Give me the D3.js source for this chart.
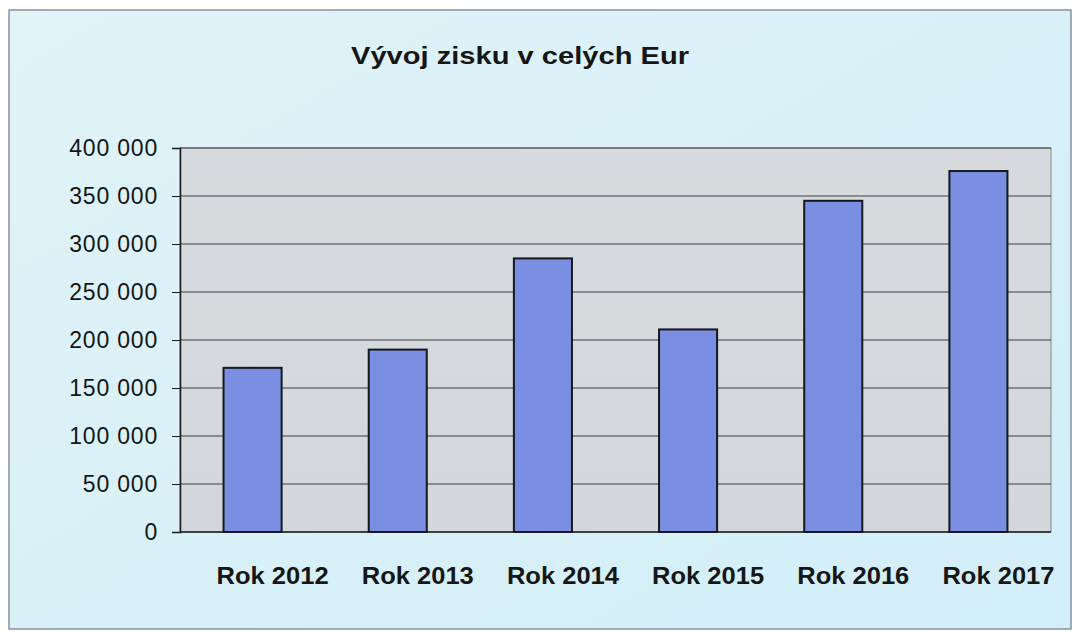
<!DOCTYPE html>
<html>
<head>
<meta charset="utf-8">
<script src="https://cdn.jsdelivr.net/npm/d3@7"></script>
<style>
  html, body { margin: 0; padding: 0; background: #ffffff; }
  svg { display: block; }
</style>
</head>
<body>
<svg id="chart" width="1075" height="632"></svg>
<script>
const categories = ["Rok 2012", "Rok 2013", "Rok 2014", "Rok 2015", "Rok 2016", "Rok 2017"];
const values = [171000, 190000, 285000, 211000, 345000, 376000];
const yTicks = [0, 50000, 100000, 150000, 200000, 250000, 300000, 350000, 400000];
const title = "Vývoj zisku v celých Eur";

const svg = d3.select("#chart");
const plot = { left: 180, right: 1051, top: 148, bottom: 532 };
const FONT = "Liberation Sans, Arial, sans-serif";

const defs = svg.append("defs");
const bgGrad = defs.append("linearGradient").attr("id", "bg").attr("x1", 0).attr("y1", 0).attr("x2", 1).attr("y2", 1);
bgGrad.append("stop").attr("offset", "0%").attr("stop-color", "#e0f3f7");
bgGrad.append("stop").attr("offset", "100%").attr("stop-color", "#d2eef8");
const plotGrad = defs.append("linearGradient").attr("id", "pg").attr("x1", 0).attr("y1", 0).attr("x2", 0).attr("y2", 1);
plotGrad.append("stop").attr("offset", "0%").attr("stop-color", "#d8dbde");
plotGrad.append("stop").attr("offset", "100%").attr("stop-color", "#d3d7db");

svg.append("rect").attr("x", 9).attr("y", 10).attr("width", 1062).attr("height", 619)
  .attr("fill", "url(#bg)").attr("stroke", "#8a9298").attr("stroke-width", 1.5);

const x = d3.scaleBand().domain(categories).range([plot.left, plot.right]).paddingInner(0.6).paddingOuter(0.3);
const y = d3.scaleLinear().domain([0, 400000]).range([plot.bottom, plot.top]);

svg.append("rect").attr("x", plot.left).attr("y", plot.top)
  .attr("width", plot.right - plot.left).attr("height", plot.bottom - plot.top)
  .attr("fill", "url(#pg)").attr("stroke", "#80868c").attr("stroke-width", 1);

svg.append("g").selectAll("line").data(yTicks.filter(d => d > 0)).join("line")
  .attr("x1", plot.left).attr("x2", plot.right)
  .attr("y1", d => y(d)).attr("y2", d => y(d))
  .attr("stroke", "#3a3e44").attr("stroke-width", 1);

const fmt = d => d3.format(",")(d).replace(/,/g, " ");
const yAxis = d3.axisLeft(y).tickValues(yTicks).tickFormat(fmt).tickSize(8).tickPadding(14);
const yg = svg.append("g").attr("transform", `translate(${plot.left},0)`).call(yAxis);
yg.select(".domain").attr("stroke", "#1a1a1a").attr("stroke-width", 1.5);
yg.selectAll(".tick line").attr("stroke", "#1a1a1a");
yg.selectAll("text").attr("font-family", FONT)
  .attr("font-size", 23).attr("letter-spacing", 0.8).attr("fill", "#161616");

svg.append("line").attr("x1", plot.left).attr("x2", plot.right)
  .attr("y1", y(0)).attr("y2", y(0)).attr("stroke", "#1a1a1a").attr("stroke-width", 1.5);

svg.append("g").selectAll("rect").data(values).join("rect")
  .attr("x", (d, i) => x(categories[i]))
  .attr("y", d => y(d))
  .attr("width", x.bandwidth())
  .attr("height", d => y(0) - y(d))
  .attr("fill", "#7b8fe2")
  .attr("stroke", "#15181f").attr("stroke-width", 2);

const xAxis = d3.axisBottom(x).tickSize(0).tickPadding(35);
const xg = svg.append("g").attr("transform", `translate(20,${plot.bottom})`).call(xAxis);
xg.select(".domain").remove();
xg.selectAll("text").attr("font-family", FONT)
  .attr("font-size", 24).attr("font-weight", "bold").attr("fill", "#161616")
  .attr("textLength", 112).attr("lengthAdjust", "spacingAndGlyphs");

svg.append("text").attr("x", 520).attr("y", 64).attr("text-anchor", "middle")
  .attr("font-family", FONT)
  .attr("font-size", 24).attr("font-weight", "bold").attr("fill", "#161616")
  .attr("textLength", 338).attr("lengthAdjust", "spacingAndGlyphs")
  .text(title);
</script>
</body>
</html>
